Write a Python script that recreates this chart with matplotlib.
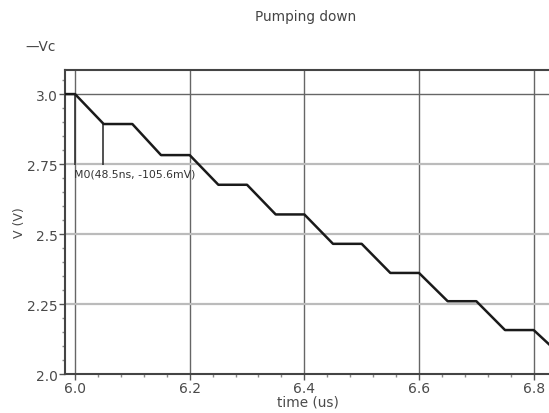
import numpy as np
import matplotlib
matplotlib.use('Agg')
import matplotlib.pyplot as plt
from matplotlib.ticker import MultipleLocator

# Data
time_us = [5.982, 6.0, 6.05, 6.10, 6.15, 6.20, 6.25, 6.30, 6.35, 6.40,
           6.45, 6.50, 6.55, 6.60, 6.65, 6.70, 6.75, 6.80, 6.83]
vc = [3.0, 3.0, 2.893, 2.893, 2.782, 2.782, 2.676, 2.676, 2.570, 2.570,
      2.465, 2.465, 2.361, 2.361, 2.260, 2.260, 2.157, 2.157, 2.10]

xticks = [6.0, 6.2, 6.4, 6.6, 6.8]
xticklabels = ['6.0', '6.2', '6.4', '6.6', '6.8']
yticks = [2.0, 2.25, 2.5, 2.75, 3.0]
yticklabels = ['2.0', '2.25', '2.5', '2.75', '3.0']

# marker M0
m0_x = [6.0, 6.0485]
m0_y = [3.0, 2.893]
m0_bottom = 2.745
m0_text = 'M0(48.5ns, -105.6mV)'

txt = '#4a4a4a'

fig = plt.figure(figsize=(5.49, 4.14), dpi=100)
ax = fig.add_axes([0.1184, 0.0942, 0.885, 0.7343])

ax.set_xlim(5.9825, 6.83)
ax.set_ylim(2.0, 3.086)

# grid
for x in xticks:
    ax.axvline(x, color='#666666', lw=1.0, zorder=1)
ax.axhline(3.0, color='#666666', lw=1.0, zorder=1)
for y in [2.25, 2.5, 2.75]:
    ax.axhline(y, color='#bbbbbb', lw=1.6, zorder=1)

# trace
ax.plot(time_us, vc, color='#1a1a1a', lw=1.8, zorder=3)

# marker
ax.vlines(m0_x, [m0_bottom, m0_bottom], m0_y, color='#333333', lw=1.2, zorder=2)
ax.text(5.9985, 2.716, m0_text, fontsize=7.8, color='#333333',
        ha='left', va='center', zorder=4)

ax.set_xticks(xticks)
ax.set_xticklabels(xticklabels)
ax.set_yticks(yticks)
ax.set_yticklabels(yticklabels)
ax.xaxis.set_minor_locator(MultipleLocator(0.04))
ax.yaxis.set_minor_locator(MultipleLocator(0.05))
ax.tick_params(which='major', length=4, width=1, color='#555555',
               labelsize=10, labelcolor=txt, pad=1)
ax.tick_params(which='minor', length=2, width=1, color='#888888')

for s in ['left', 'bottom', 'top']:
    ax.spines[s].set_color('#444444')
    ax.spines[s].set_linewidth(1.5)
ax.spines['right'].set_visible(False)

ax.set_xlabel('time (us)', fontsize=9.8, color=txt, labelpad=0)
ax.set_ylabel('V (V)', fontsize=9, color=txt, labelpad=1)

fig.text(0.556, 0.958, 'Pumping down', fontsize=9.8, color='#444444',
         ha='center', va='center')
fig.text(0.046, 0.886, '\u2014Vc', fontsize=9.8, color='#444444',
         ha='left', va='center')

fig.savefig('out.png', dpi=100)
